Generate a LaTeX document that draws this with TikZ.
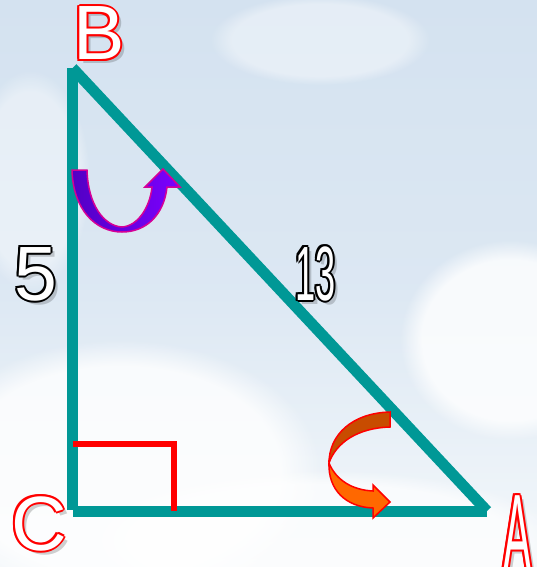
\documentclass[tikz,border=0pt]{standalone}
\usepackage{fontspec}
\setmainfont{Liberation Sans}
\usepackage{tikz}
\usetikzlibrary{calc,positioning,fadings}

\definecolor{sky}{RGB}{212,226,240}
\definecolor{cloud}{RGB}{244,248,251}
\definecolor{teal}{RGB}{0,152,150}
\definecolor{purpD}{RGB}{82,0,196}
\definecolor{purpL}{RGB}{124,0,255}
\definecolor{purpRim}{RGB}{214,0,150}
\definecolor{orgD}{RGB}{200,76,0}
\definecolor{orgL}{RGB}{255,104,0}

\tikzset{
  side/.style={line width=11pt,color=teal,line cap=butt},
  rightmark/.style={line width=6pt,color=red,line cap=butt,line join=miter},
  lbl/.style={font=\fontsize{77}{80}\selectfont,inner sep=0pt,anchor=base west,
    text height=0.72em,text depth=0pt},
  puff/.style={fill=white,path fading=circle with fuzzy edge 20 percent,opacity=#1},
  turnB/.style={draw=purpRim,line width=1.5pt,left color=purpD,right color=purpL},
  turnA/.style={draw=red,line width=1.5pt,fill=#1}
}

% outlined text: shadow, rim copies, white face
\newcommand{\rimtext}[5]{%
  \node[lbl,#4,text=black,opacity=0.18] at ($(#2)+(4,4)$) {#5};
  \foreach \a in {0,45,...,315}
    \node[lbl,#4,text=#3] at ($(#2)+(\a:2)$) {#5};
  \node[lbl,#4,text=white] (#1) at (#2) {#5};
}

\begin{document}
\begin{tikzpicture}[x=1pt,y=-1pt]
    \useasboundingbox (0,0) rectangle (537,567);
    \begin{scope}
    \clip (0,0) rectangle (537,567);
    % sky
    \fill[top color=sky,bottom color=cloud,middle color=sky!75!cloud] (0,0) rectangle (537,567);
    \fill[puff=0.8] (120,470) ellipse (200 and 130);
    \fill[puff=0.8] (510,340) ellipse (110 and 100);
    \fill[puff=0.7] (320,540) ellipse (240 and 70);
    \fill[puff=0.4] (320,40) ellipse (110 and 45);
    \fill[puff=0.4] (30,180) ellipse (60 and 110);
    % vertices
    \coordinate (B) at (72.5,68);
    \coordinate (C) at (72.5,511);
    \coordinate (A) at (487,511);
    \coordinate (Cb) at (72.5,510);
    % sides
    \draw[side] (Cb) -- (B);
    \draw[side] (C) -- (A);
    \draw[side] (B) -- (A);
    % right angle
    \draw[rightmark] ($(C)+(0,-67)$) -- ++(101,0) -- ++(0,67);
    % turning arrows
    \filldraw[turnB] (72,170) -- (87,170) .. controls (88,205) and (104,226) .. (122,227)
        .. controls (138,226) and (150,207) .. (152,187) -- (145,187) -- (163,169) -- (180,187)
        -- (167,187) .. controls (164,215) and (146,232) .. (122,232)
        .. controls (96,232) and (73,210) .. (72,170) -- cycle;
    \filldraw[turnA=orgD] (390,412) .. controls (352,413) and (329,435) .. (329,463)
        .. controls (336,443) and (357,428) .. (390,427) -- cycle;
    \filldraw[turnA=orgL] (329,463) .. controls (336,480) and (352,490) .. (373,491)
        -- (373,485) -- (390,502) -- (373,518) -- (373,508)
        .. controls (346,507) and (328,490) .. (329,463) -- cycle;
    % labels
    \coordinate (pB) at (73,60);
    \coordinate (pC) at (11,550);
    \coordinate (pA) at (503,572);
    \coordinate (p5) at (14,300);
    \coordinate (p13) at (295,300);
    \rimtext{labB}{pB}{red}{}{B}
    \rimtext{labC}{pC}{red}{}{C}
    \rimtext{labA}{pA}{red}{xscale=0.55,yscale=1.45}{A}
    \rimtext{side5}{p5}{black}{}{5}
    \rimtext{side13}{p13}{black}{xscale=0.47}{13}
    \end{scope}
\end{tikzpicture}
\end{document}
